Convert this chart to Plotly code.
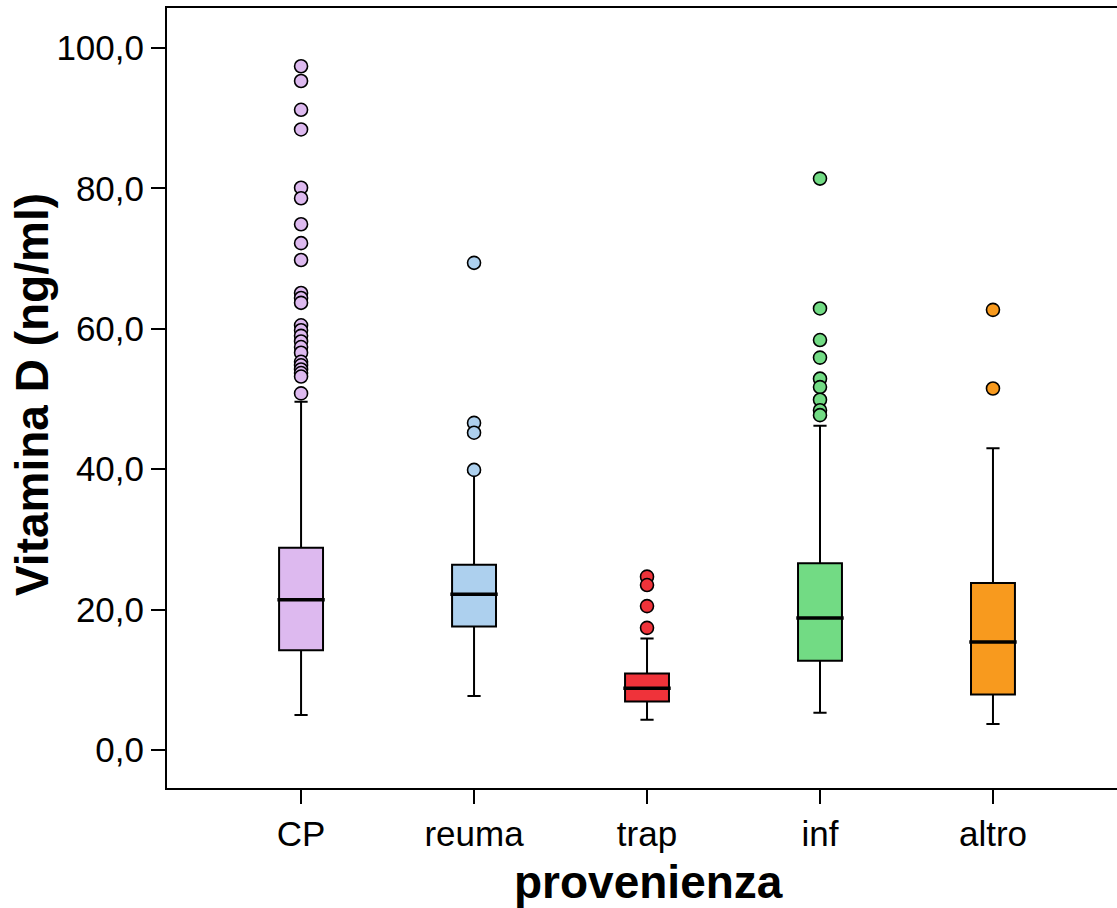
import plotly.graph_objects as go

categories = ["CP", "reuma", "trap", "inf", "altro"]
colors = ["#DDB9EF", "#ADD0EE", "#EF333A", "#72DB84", "#F89A1E"]

q1 = [14.2, 17.6, 6.9, 12.7, 7.9]
median = [21.4, 22.2, 8.8, 18.8, 15.4]
q3 = [28.8, 26.4, 10.9, 26.6, 23.8]
lower_whisker = [5.0, 7.7, 4.3, 5.3, 3.7]
upper_whisker = [49.6, 39.6, 15.9, 46.2, 43.0]

outliers = [
    [97.4, 95.3, 91.2, 88.4, 80.1, 78.6, 74.9, 72.2, 69.8, 65.1, 64.4, 63.7,
     60.5, 59.8, 59.0, 58.2, 57.4, 56.6, 55.3, 54.8, 54.2, 53.7, 53.2, 50.8],
    [69.4, 46.6, 45.2, 39.9],
    [24.7, 23.5, 20.5, 17.4],
    [81.4, 62.9, 58.4, 55.9, 52.9, 51.7, 49.9, 48.4, 47.7],
    [62.7, 51.5],
]

y_tickvals = [0, 20, 40, 60, 80, 100]
y_ticktext = ["0,0", "20,0", "40,0", "60,0", "80,0", "100,0"]

x_title = "provenienza"
y_title = "Vitamina D (ng/ml)"

BOX_W = 0.254
FONT = "Liberation Sans, Arial, Helvetica, sans-serif"

fig = go.Figure()
for i, cat in enumerate(categories):
    fig.add_trace(go.Box(
        x=[i], q1=[q1[i]], median=[median[i]], q3=[q3[i]],
        lowerfence=[lower_whisker[i]], upperfence=[upper_whisker[i]],
        width=BOX_W, whiskerwidth=0.3, boxpoints=False,
        fillcolor=colors[i], line=dict(color="black", width=2),
        showlegend=False, hoverinfo="skip",
    ))
    # thicker median line
    fig.add_trace(go.Scatter(
        x=[i - BOX_W / 2 - 0.01, i + BOX_W / 2 + 0.01],
        y=[median[i], median[i]], mode="lines",
        line=dict(color="black", width=3.5), showlegend=False, hoverinfo="skip",
    ))
    fig.add_trace(go.Scatter(
        x=[i] * len(outliers[i]), y=outliers[i], mode="markers",
        marker=dict(size=13, color=colors[i], line=dict(color="black", width=1.6)),
        showlegend=False, hoverinfo="skip",
    ))

fig.update_layout(
    width=1117, height=908,
    margin=dict(l=167, r=0, t=8, b=120, autoexpand=False),
    plot_bgcolor="white", paper_bgcolor="white",
    font=dict(family=FONT, color="black", size=35),
    xaxis=dict(
        range=[-0.775, 4.717], tickmode="array",
        tickvals=list(range(len(categories))), ticktext=categories,
        showline=True, linecolor="black", linewidth=2, mirror=True,
        ticks="outside", ticklen=14, tickwidth=2, tickcolor="black",
        showgrid=False, zeroline=False, automargin=False,
        tickfont=dict(size=35, family=FONT),
    ),
    yaxis=dict(
        range=[-5.41, 105.7], tickmode="array",
        tickvals=y_tickvals, ticktext=y_ticktext,
        showline=True, linecolor="black", linewidth=2, mirror=False,
        ticks="outside", ticklen=14, tickwidth=2, tickcolor="black",
        showgrid=False, zeroline=False, automargin=False,
        tickfont=dict(size=35, family=FONT),
    ),
    annotations=[
        dict(text="<b>" + x_title + "</b>", xref="paper", yref="paper",
             x=0.507, y=-0.12, xanchor="center", yanchor="middle",
             showarrow=False, font=dict(size=46, family=FONT)),
        dict(text="<b>" + y_title + "</b>", xref="paper", yref="paper",
             x=-0.142, y=0.504, xanchor="center", yanchor="middle", textangle=-90,
             showarrow=False, font=dict(size=46, family=FONT)),
    ],
)

fig.write_html(
    "out.html",
    config={"displayModeBar": False},
    post_script="document.body.style.margin='0';document.body.style.overflow='hidden';",
)
